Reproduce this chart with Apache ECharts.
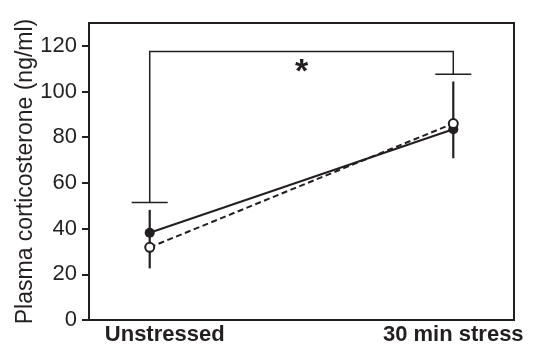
<!DOCTYPE html>
<html style="height: 100%">
   <head>
       <meta charset="utf-8">
   </head>
   <body style="height: 100%; margin: 0; background: #fff">
       <div id="container" style="height: 348px; width: 536px;"></div>
       <script type="text/javascript" src="https://cdn.jsdelivr.net/npm/echarts@6/dist/echarts.min.js"></script>
       <script type="text/javascript">
        // data
        var categories = ['Unstressed', '30 min stress'];
        var xPos = [0, 1];
        var filledMean = [38.2, 83.5];     // solid line, filled circles
        var openMean = [31.8, 86.0];       // dashed line, open circles
        var errLow = [22.6, 70.8];         // whisker bottom
        var errHigh = [48.2, 104.4];       // whisker top
        var bracketTop = 117.5;
        var bracketCaps = [51.4, 107.6];
        var starY = 108.3;
        var yTicks = [0, 20, 40, 60, 80, 100, 120];

        var ink = '#231f20';
        var font = 'Liberation Sans, Arial, sans-serif';

        var dom = document.getElementById("container");
        var myChart = echarts.init(dom);

        function pairs(ys) {
            return xPos.map(function (x, i) { return [x, ys[i]]; });
        }

        var option = {
            animation: false,
            grid: {
                left: 89, right: 22, top: 23, bottom: 28,
                show: true, borderColor: ink, borderWidth: 2
            },
            xAxis: {
                type: 'value',
                min: -0.2,
                max: 1.2,
                splitLine: { show: false },
                axisLine: { onZero: false, lineStyle: { color: ink, width: 2 } },
                axisTick: { show: false },
                axisLabel: {
                    customValues: xPos,
                    margin: 4,
                    color: ink,
                    fontFamily: font,
                    fontSize: 22,
                    fontWeight: 'bold',
                    formatter: function (v) {
                        var i = xPos.indexOf(v);
                        return i === 0 ? '{a|' + categories[i] + '}' : categories[i];
                    },
                    rich: {
                        a: { fontFamily: font, fontSize: 22, fontWeight: 'bold', color: ink, padding: [0, 0, 0, 30] }
                    }
                }
            },
            yAxis: {
                type: 'value',
                min: 0,
                max: 130,
                name: 'Plasma corticosterone (ng/ml)',
                nameLocation: 'middle',
                nameGap: 52,
                nameMoveOverlap: false,
                nameTextStyle: { color: ink, fontFamily: font, fontSize: 23 },
                splitLine: { show: false },
                axisLine: { show: true, onZero: false, lineStyle: { color: ink, width: 2 } },
                axisTick: { customValues: yTicks, length: 7, lineStyle: { color: ink, width: 2 } },
                axisLabel: { customValues: yTicks, margin: 12, color: ink, fontFamily: font, fontSize: 22 }
            },
            series: [
                {
                    type: 'custom',
                    name: 'error',
                    z: 1,
                    data: xPos.map(function (x, i) { return [x, errLow[i], errHigh[i]]; }),
                    renderItem: function (params, api) {
                        var a = api.coord([api.value(0), api.value(1)]);
                        var b = api.coord([api.value(0), api.value(2)]);
                        return {
                            type: 'line',
                            shape: { x1: a[0], y1: a[1], x2: b[0], y2: b[1] },
                            style: { stroke: ink, lineWidth: 2.2 }
                        };
                    }
                },
                {
                    type: 'custom',
                    name: 'bracket',
                    z: 1,
                    data: [[bracketTop, bracketCaps[0], bracketCaps[1], starY]],
                    renderItem: function (params, api) {
                        var top = api.value(0);
                        var p0 = api.coord([xPos[0], api.value(1)]);
                        var p1 = api.coord([xPos[0], top]);
                        var p2 = api.coord([xPos[1], top]);
                        var p3 = api.coord([xPos[1], api.value(2)]);
                        var s = api.coord([(xPos[0] + xPos[1]) / 2, api.value(3)]);
                        var st = { stroke: ink, lineWidth: 1.5, fill: null };
                        return {
                            type: 'group',
                            children: [
                                { type: 'polyline', shape: { points: [p0, p1, p2, p3] }, style: st },
                                { type: 'line', shape: { x1: p0[0] - 18, y1: p0[1], x2: p0[0] + 18, y2: p0[1] }, style: st },
                                { type: 'line', shape: { x1: p3[0] - 18, y1: p3[1], x2: p3[0] + 18, y2: p3[1] }, style: st },
                                {
                                    type: 'text',
                                    x: s[0], y: s[1],
                                    style: {
                                        text: '*', fill: ink, fontFamily: font, fontSize: 34, fontWeight: 'bold',
                                        align: 'center', verticalAlign: 'middle'
                                    }
                                }
                            ]
                        };
                    }
                },
                {
                    type: 'line',
                    name: 'filled',
                    z: 3,
                    data: pairs(filledMean),
                    symbol: 'circle',
                    symbolSize: 10,
                    itemStyle: { color: ink },
                    lineStyle: { color: ink, width: 2 }
                },
                {
                    type: 'line',
                    name: 'open',
                    z: 4,
                    data: pairs(openMean),
                    symbol: 'circle',
                    symbolSize: 9,
                    itemStyle: { color: '#fff', borderColor: ink, borderWidth: 2 },
                    lineStyle: { color: ink, width: 2, type: [6, 3.5] }
                }
            ]
        };

        myChart.setOption(option, true);
       </script>
   </body>
</html>
